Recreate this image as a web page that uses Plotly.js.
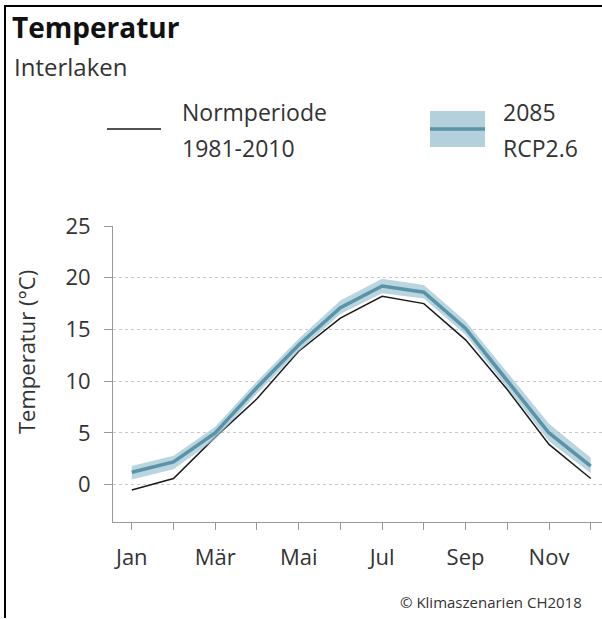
<!DOCTYPE html>
<html>
<head>
<meta charset="utf-8">
<script src="https://cdn.plot.ly/plotly-3.0.1.min.js"></script>
<style>html,body{margin:0;padding:0;background:#fff;}#chart{width:602px;height:619px;}</style>
</head>
<body>
<div id="chart"></div>
<script>
// Data
const months = [1,2,3,4,5,6,7,8,9,10,11,12];
const monthLabels = ["Jan","","Mär","","Mai","","Jul","","Sep","","Nov",""];
const normperiode = [-0.5, 0.6, 4.6, 8.3, 12.9, 16.1, 18.2, 17.5, 14.0, 9.2, 3.9, 0.6];
const rcp26Median = [1.2, 2.2, 5.0, 9.4, 13.5, 17.1, 19.2, 18.6, 15.1, 10.1, 5.0, 1.8];
const rcp26Upper  = [1.8, 2.8, 5.6, 10.0, 14.1, 17.8, 19.9, 19.3, 15.8, 10.8, 5.9, 2.6];
const rcp26Lower  = [0.5, 1.5, 4.4, 8.8, 12.9, 16.5, 18.5, 18.0, 14.5, 9.4, 4.2, 1.1];
const yTicks = [0,5,10,15,20,25];

// plot area in pixels
const W = 602, H = 619;
const L = 113, R = 602, T = 226, B = 522;
const px = x => (x - L) / (R - L);
const py = y => (B - y) / (B - T);

const font = "'Open Sans', 'Noto Sans', sans-serif";
const bandColor = "rgba(155,195,210,0.7)";
const lineColor = "#5a92a8";

const traces = [
  {x: months, y: normperiode, type: "scatter", mode: "lines",
   line: {color: "#1a1a1a", width: 1.5}, hoverinfo: "skip", showlegend: false},
  {x: months, y: rcp26Lower, type: "scatter", mode: "lines",
   line: {width: 0, color: bandColor}, hoverinfo: "skip", showlegend: false},
  {x: months, y: rcp26Upper, type: "scatter", mode: "lines", fill: "tonexty",
   fillcolor: bandColor, line: {width: 0, color: bandColor}, hoverinfo: "skip", showlegend: false},
  {x: months, y: rcp26Median, type: "scatter", mode: "lines",
   line: {color: lineColor, width: 3.5}, hoverinfo: "skip", showlegend: false}
];

const layout = {
  width: W, height: H,
  margin: {l: L, r: W - R, t: T, b: H - B, pad: 0},
  paper_bgcolor: "#fff", plot_bgcolor: "#fff",
  font: {family: font, color: "#222"},
  showlegend: false,
  xaxis: {
    range: [0.55, 12.27], tickvals: months, ticktext: monthLabels,
    showgrid: false, zeroline: false, showline: true, linecolor: "#999", linewidth: 1,
    ticks: "outside", ticklen: 7, tickcolor: "#999", tickwidth: 1,
    tickfont: {size: 22, color: "#333", family: font}, ticklabelstandoff: 9
  },
  yaxis: {
    range: [-3.6, 25], tickvals: yTicks,
    showgrid: true, gridcolor: "#c8c8c8", griddash: "3px,3px", gridwidth: 1,
    zeroline: false, showline: true, linecolor: "#999", linewidth: 1,
    ticks: "outside", ticklen: 8, tickcolor: "#999", tickwidth: 1,
    tickfont: {size: 22, color: "#333", family: font}, ticklabelstandoff: 9
  },
  title: {text: "<b>Temperatur</b>", font: {size: 28, color: "#111", family: font},
    xref: "container", yref: "container", x: 12/W, xanchor: "left",
    y: 1 - 28/H, yanchor: "middle"},
  annotations: [
    {text: "Interlaken", xref: "paper", yref: "paper", x: px(12), y: py(66),
     xanchor: "left", yanchor: "middle", showarrow: false, font: {size: 24, color: "#333"}},
    {text: "Normperiode", xref: "paper", yref: "paper", x: px(180), y: py(112),
     xanchor: "left", yanchor: "middle", showarrow: false, font: {size: 23, color: "#333"}},
    {text: "1981-2010", xref: "paper", yref: "paper", x: px(180), y: py(148),
     xanchor: "left", yanchor: "middle", showarrow: false, font: {size: 23, color: "#333"}},
    {text: "2085", xref: "paper", yref: "paper", x: px(501), y: py(112),
     xanchor: "left", yanchor: "middle", showarrow: false, font: {size: 23, color: "#333"}},
    {text: "RCP2.6", xref: "paper", yref: "paper", x: px(501), y: py(148),
     xanchor: "left", yanchor: "middle", showarrow: false, font: {size: 23, color: "#333"}},
    {text: "Temperatur (°C)", xref: "paper", yref: "paper", x: px(26), y: py(352),
     xanchor: "center", yanchor: "middle", textangle: -90, showarrow: false,
     font: {size: 22, color: "#333"}},
    {text: "© Klimaszenarien CH2018", xref: "paper", yref: "paper", x: px(584), y: py(602),
     xanchor: "right", yanchor: "middle", showarrow: false, font: {size: 15, color: "#333"}}
  ],
  shapes: [
    // frame (top and left)
    {type: "line", xref: "paper", yref: "paper", x0: px(4), x1: px(602), y0: py(6), y1: py(6),
     line: {color: "#000", width: 2}},
    {type: "line", xref: "paper", yref: "paper", x0: px(5), x1: px(5), y0: py(5), y1: py(618),
     line: {color: "#000", width: 2}},
    // legend samples
    {type: "line", xref: "paper", yref: "paper", x0: px(107), x1: px(161), y0: py(129), y1: py(129),
     line: {color: "#1a1a1a", width: 1.5}},
    {type: "rect", xref: "paper", yref: "paper", x0: px(430), x1: px(485), y0: py(111), y1: py(147),
     fillcolor: "#b4d0da", line: {width: 0}},
    {type: "line", xref: "paper", yref: "paper", x0: px(430), x1: px(485), y0: py(129), y1: py(129),
     line: {color: lineColor, width: 3.5}}
  ]
};

Plotly.newPlot("chart", traces, layout, {displayModeBar: false, staticPlot: true});
</script>
</body>
</html>
